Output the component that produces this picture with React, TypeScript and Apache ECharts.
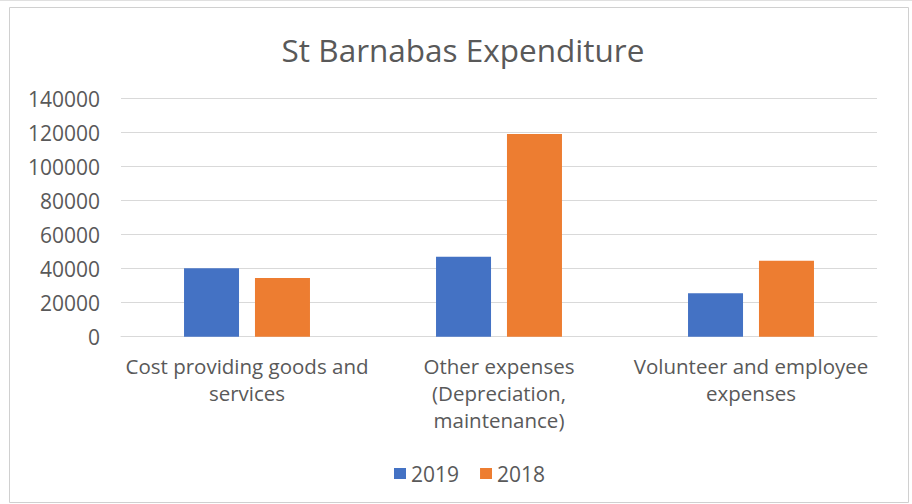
import React, { useEffect, useRef } from "react";
import * as echarts from "echarts";

const categories = [
  "Cost providing goods and\nservices",
  "Other expenses\n(Depreciation,\nmaintenance)",
  "Volunteer and employee\nexpenses",
];
const seriesNames = ["2019", "2018"];
const values2019 = [40200, 47000, 25500];
const values2018 = [34500, 119200, 44700];
const yTicks = { min: 0, max: 140000, interval: 20000 };
const colors = ["#4472C4", "#ED7D31"];

const FONT = "'Open Sans', 'Noto Sans', sans-serif";

export default function App() {
  const ref = useRef<HTMLDivElement>(null);
  useEffect(() => {
    if (!ref.current) return;
    const chart = echarts.init(ref.current, undefined, { renderer: "svg" });
    chart.setOption({
      animation: false,
      backgroundColor: "#ffffff",
      textStyle: { fontFamily: FONT },
      title: {
        text: "St Barnabas Expenditure",
        left: 458,
        textAlign: "center",
        top: 28,
        textStyle: { fontFamily: FONT, fontSize: 31.5, fontWeight: "normal", color: "#595959" },
      },
      legend: {
        left: 389,
        top: 458,
        itemWidth: 12,
        itemHeight: 11,
        itemGap: 21,
        icon: "rect",
        textStyle: { fontFamily: FONT, fontSize: 21, color: "#595959" },
        data: seriesNames,
      },
      grid: { left: 121, right: 35, top: 98.5, bottom: 167.3, containLabel: false },
      xAxis: {
        type: "category",
        data: categories,
        axisTick: { show: false },
        axisLine: { lineStyle: { color: "#d9d9d9", width: 1 } },
        axisLabel: {
          interval: 0,
          margin: 16,
          fontFamily: FONT,
          fontSize: 20.5,
          lineHeight: 27,
          color: "#595959",
          align: "center",
        },
      },
      yAxis: {
        type: "value",
        min: yTicks.min,
        max: yTicks.max,
        interval: yTicks.interval,
        axisLine: { show: false },
        axisTick: { show: false },
        splitLine: { lineStyle: { color: "#d9d9d9", width: 1 } },
        axisLabel: {
          margin: 21,
          fontFamily: FONT,
          fontSize: 21,
          color: "#595959",
          formatter: (v: number) => String(v),
        },
      },
      series: [
        {
          name: seriesNames[0],
          type: "bar",
          data: values2019,
          barWidth: 55,
          barGap: "29%",
          itemStyle: { color: colors[0] },
        },
        {
          name: seriesNames[1],
          type: "bar",
          data: values2018,
          barWidth: 55,
          barGap: "29%",
          itemStyle: { color: colors[1] },
        },
      ],
      graphic: [
        {
          type: "rect",
          shape: { x: 9.5, y: 7.5, width: 899, height: 495 },
          style: { fill: "none", stroke: "#d0d0d0", lineWidth: 1 },
          silent: true,
        },
        {
          type: "line",
          shape: { x1: 0, y1: 0.5, x2: 912, y2: 0.5 },
          style: { stroke: "#e0e0e0", lineWidth: 1 },
          silent: true,
        },
      ],
    });
    return () => chart.dispose();
  }, []);
  return (
    <div
      ref={ref}
      style={{ position: "absolute", left: 0, top: 0, width: 912, height: 504 }}
    />
  );
}
